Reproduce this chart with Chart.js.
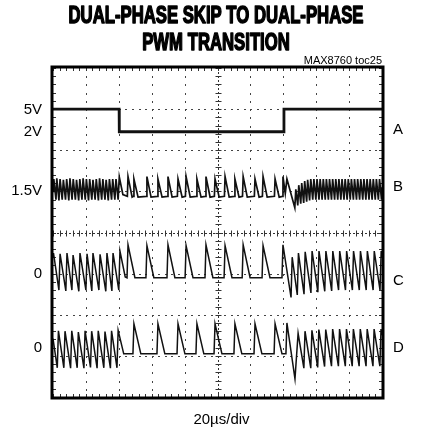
<!DOCTYPE html>
<html><head><meta charset="utf-8">
<script src="https://cdn.jsdelivr.net/npm/chart.js@4.4.0/dist/chart.umd.min.js"></script>
<style>html,body{margin:0;padding:0;background:#fff;}#wrap{width:431px;height:432px;position:relative;}</style>
</head><body><div id="wrap"><canvas id="c"></canvas></div>
<script>
// ---- text ----
const titleLines = ["DUAL-PHASE SKIP TO DUAL-PHASE", "PWM TRANSITION"];
const noteText = "MAX8760 toc25";
const xAxisLabel = "20µs/div";
// ---- axes (time in µs, vertical in divisions) ----
const timeMin = 0, timeMax = 200, timeStep = 20;
const divMin = -4, divMax = 4, divStep = 1;
// ---- channel labels (vertical position in divisions) ----
const leftLabels = ["5V", "2V", "1.5V", "0", "0"];
const leftLabelDiv = [2.98, 2.44, 1.02, -1.0, -2.8];
const rightLabels = ["A", "B", "C", "D"];
const rightLabelDiv = [2.49, 1.1, -1.17, -2.8];

// ---- trace A ----
const traceA_t = [0, 40.2, 40.3, 140.3, 140.4, 200];
const traceA_v = [3.0, 3.0, 2.45, 2.45, 3.0, 3.0];

// ---- trace B ----
const traceB_t = [0,0.5,1.8,2.3,3.6,4.3,5.6,6.3,7.6,8.3,9.6,10.3,11.6,12.3,13.6,14.3,15.6,16.3,17.6,18.3,19.6,20.3,21.6,22.3,23.6,24.3,25.6,26.3,27.6,28.3,29.6,30.3,31.6,32.3,33.6,34.3,35.6,36.3,37.6,38.3,39.6,40.3,42.5,
  45.2,45.6,48.1,48.8,49.2,51.7,56.7,57.1,59.6,63.4,63.8,66.3,69.5,69.9,72.4,75.6,76.0,78.5,80.5,80.9,83.4,87.1,87.5,90.0,92.6,93.0,95.5,98.1,98.5,101.0,104.2,104.6,107.1,110.2,110.6,113.1,115.2,115.6,118.1,122.4,122.8,125.3,127.3,127.7,130.2,134.6,135.0,137.5,139.4,139.8,141.2,142.2,
  147.0,147.6,148.8,149.4,150.6,151.2,152.4,153.0,154.2,154.8,156.0,156.7,157.9,158.6,159.8,160.5,161.7,162.4,163.6,164.3,165.5,166.2,167.4,168.1,169.3,170.0,171.2,171.9,173.1,173.8,175.0,175.7,176.9,177.6,178.8,179.5,180.7,181.4,182.6,183.3,184.5,185.2,186.4,187.1,188.3,189.0,190.2,190.9,192.1,192.8,194.0,194.7,195.9,196.6,197.8,198.5,199.7,200];
const traceB_v = [1.0,1.3,0.8,1.32,0.78,1.3,0.8,1.28,0.8,1.3,0.78,1.32,0.8,1.3,0.8,1.28,0.78,1.3,0.8,1.32,0.8,1.3,0.78,1.3,0.8,1.28,0.8,1.3,0.78,1.32,0.8,1.3,0.8,1.28,0.78,1.3,0.8,1.3,0.8,1.3,0.8,1.35,0.92,
  0.88,1.36,0.86,0.88,1.3,0.86,0.88,1.36,0.86,0.88,1.3,0.86,0.88,1.36,0.86,0.88,1.3,0.86,0.88,1.36,0.86,0.88,1.3,0.86,0.88,1.36,0.86,0.88,1.3,0.86,0.88,1.36,0.86,0.88,1.3,0.86,0.88,1.36,0.86,0.88,1.3,0.86,0.88,1.36,0.86,0.88,1.3,0.86,0.88,1.36,0.95,1.3,
  0.6,1.05,0.66,1.15,0.7,1.2,0.72,1.25,0.75,1.28,0.78,1.3,0.8,1.3,0.8,1.3,0.8,1.3,0.8,1.3,0.8,1.3,0.8,1.3,0.8,1.3,0.8,1.3,0.8,1.3,0.8,1.3,0.8,1.3,0.8,1.3,0.8,1.3,0.8,1.3,0.8,1.3,0.8,1.3,0.8,1.3,0.8,1.3,0.8,1.3,0.8,1.3,0.8,1.3,0.8,1.3,0.8,1.1];

// ---- trace C ----
const traceC_t = [0,0.3,3.6,4.3,7.8,8.5,11.5,12.2,15.7,16.4,20.0,20.7,23.6,24.3,27.9,28.6,32.1,32.8,35.8,36.5,40.0,40.7,43.9,
  45.0,45.6,49.8,56.5,57.1,61.3,69.3,69.9,74.1,80.3,80.9,85.1,92.4,93.0,97.2,104.0,104.6,108.8,115.0,115.6,119.8,127.1,127.7,131.9,139.2,139.8,
  144.7,145.4,148.5,149.2,152.6,153.3,156.8,157.5,161.0,161.7,165.2,165.9,169.4,170.1,173.6,174.3,177.8,178.5,182.0,182.7,186.2,186.9,190.4,191.1,194.6,195.3,198.8,199.5,200];
const traceC_v = [-0.6,-0.5,-1.4,-0.52,-1.42,-0.5,-1.4,-0.55,-1.43,-0.5,-1.4,-0.52,-1.42,-0.5,-1.4,-0.53,-1.43,-0.5,-1.42,-0.5,-1.4,-0.45,-1.08,
  -1.1,-0.3,-1.1,-1.1,-0.32,-1.1,-1.1,-0.3,-1.1,-1.1,-0.32,-1.1,-1.1,-0.3,-1.1,-1.1,-0.32,-1.1,-1.1,-0.3,-1.1,-1.1,-0.32,-1.1,-1.1,-0.3,
  -1.58,-0.6,-1.52,-0.5,-1.5,-0.47,-1.47,-0.45,-1.45,-0.45,-1.43,-0.45,-1.42,-0.45,-1.4,-0.45,-1.4,-0.45,-1.4,-0.45,-1.4,-0.45,-1.4,-0.45,-1.4,-0.45,-1.4,-0.45,-0.6];

// ---- trace D ----
const traceD_t = [0,2.6,3.3,6.6,7.3,10.7,11.4,14.7,15.4,18.8,19.5,22.8,23.5,26.8,27.5,30.9,31.6,34.9,35.6,38.9,39.6,43.0,
  48.6,49.2,53.4,63.2,63.8,68.0,75.4,76.0,80.2,86.9,87.5,91.7,97.9,98.5,102.7,110.0,110.6,114.8,122.2,122.8,127.0,134.4,135.0,139.2,141.6,142.2,
  147.1,149.0,152.5,153.2,156.7,157.4,160.9,161.6,165.1,165.8,169.3,170.0,173.5,174.2,177.7,178.4,181.9,182.6,186.1,186.8,190.3,191.0,194.5,195.2,198.7,199.4,200];
const traceD_v = [-2.58,-3.29,-2.39,-3.29,-2.4,-3.3,-2.39,-3.29,-2.42,-3.3,-2.39,-3.28,-2.4,-3.3,-2.39,-3.29,-2.41,-3.3,-2.39,-3.29,-2.38,-2.95,
  -2.95,-2.22,-2.95,-2.95,-2.22,-2.95,-2.95,-2.22,-2.95,-2.95,-2.22,-2.95,-2.95,-2.22,-2.95,-2.95,-2.22,-2.95,-2.95,-2.22,-2.95,-2.95,-2.22,-2.95,-2.95,-2.2,
  -3.56,-2.45,-3.3,-2.4,-3.3,-2.38,-3.28,-2.36,-3.26,-2.36,-3.25,-2.35,-3.25,-2.35,-3.25,-2.35,-3.25,-2.35,-3.25,-2.35,-3.25,-2.35,-3.25,-2.35,-3.25,-2.35,-2.5];

function pts(ts, vs){ return ts.map((t,i)=>({x:t, y:vs[i]})); }

const FONT = '"Liberation Sans", Arial, sans-serif';

const scopePlugin = {
  id: 'scope',
  beforeDatasetsDraw(chart){
    const {ctx, chartArea:a, scales:{x, y}} = chart;
    const cx = Math.round(x.getPixelForValue((timeMin+timeMax)/2)) + 0.5;
    const cy = Math.round(y.getPixelForValue(0)) + 0.5;
    const nMajX = Math.round((timeMax-timeMin)/timeStep);
    const nMajY = Math.round((divMax-divMin)/divStep);
    ctx.save();
    ctx.fillStyle = '#444';
    for (let i=1;i<nMajX;i++){
      if (i*2 === nMajX) continue;
      const px = Math.round(x.getPixelForValue(timeMin + i*timeStep));
      for (let j=1;j<nMajY*5;j++){
        const py = Math.round(y.getPixelForValue(divMin + j*divStep/5));
        ctx.fillRect(px, py, 1, 2);
      }
    }
    for (let j=1;j<nMajY;j++){
      if (j*2 === nMajY) continue;
      const py = Math.round(y.getPixelForValue(divMin + j*divStep));
      for (let i=1;i<nMajX*5;i++){
        const px = Math.round(x.getPixelForValue(timeMin + i*timeStep/5));
        ctx.fillRect(px, py, 2, 1);
      }
    }
    ctx.strokeStyle = '#333'; ctx.lineWidth = 1;
    ctx.setLineDash([2, 2]);
    ctx.beginPath();
    ctx.moveTo(cx, a.top); ctx.lineTo(cx, a.bottom);
    ctx.moveTo(a.left, cy); ctx.lineTo(a.right, cy);
    ctx.stroke();
    ctx.setLineDash([]);
    ctx.beginPath();
    for (let i=0;i<=nMajX*5;i++){
      const px = Math.round(x.getPixelForValue(timeMin + i*timeStep/5)) + 0.5;
      ctx.moveTo(px, cy-3); ctx.lineTo(px, cy+3);
      ctx.moveTo(px, a.top); ctx.lineTo(px, a.top+3);
      ctx.moveTo(px, a.bottom); ctx.lineTo(px, a.bottom-3);
    }
    for (let j=0;j<=nMajY*5;j++){
      const py = Math.round(y.getPixelForValue(divMin + j*divStep/5)) + 0.5;
      ctx.moveTo(cx-3, py); ctx.lineTo(cx+3, py);
      ctx.moveTo(a.left, py); ctx.lineTo(a.left+3, py);
      ctx.moveTo(a.right, py); ctx.lineTo(a.right-3, py);
    }
    ctx.stroke(); ctx.restore();
  },
  afterDraw(chart){
    const {ctx, chartArea:a, scales:{y}} = chart;
    ctx.save();
    ctx.strokeStyle = '#000'; ctx.lineWidth = 3;
    ctx.strokeRect(a.left-1, a.top-1, a.right-a.left+2, a.bottom-a.top+2);
    ctx.fillStyle = '#000';
    ctx.font = 'bold 23px ' + FONT;
    const sx = 295 / ctx.measureText(titleLines[0]).width;
    ctx.lineWidth = 1.5; ctx.lineJoin = 'round';
    titleLines.forEach((s, i) => {
      ctx.save();
      const w = ctx.measureText(s).width * sx;
      ctx.translate(216 - w/2, 23 + i*27); ctx.scale(sx, 1);
      ctx.strokeText(s, 0, 0); ctx.fillText(s, 0, 0);
      ctx.restore();
    });
    ctx.textBaseline = 'middle';
    ctx.font = '11px ' + FONT; ctx.textAlign = 'right';
    ctx.fillText(noteText, a.right, 61);
    ctx.font = '15px ' + FONT;
    leftLabels.forEach((s, i) => ctx.fillText(s, 42, y.getPixelForValue(leftLabelDiv[i])));
    ctx.textAlign = 'left';
    rightLabels.forEach((s, i) => ctx.fillText(s, 393, y.getPixelForValue(rightLabelDiv[i])));
    ctx.textAlign = 'center';
    ctx.fillText(xAxisLabel, (a.left + a.right)/2 + 4, 420);
    ctx.restore();
  }
};

const ds = (ts, vs, w) => ({data: pts(ts, vs), borderColor: '#111', borderWidth: w, pointRadius: 0, tension: 0, fill: false});

new Chart(document.getElementById('c'), {
  type: 'line',
  data: { datasets: [ ds(traceA_t, traceA_v, 2.8), ds(traceB_t, traceB_v, 1.7), ds(traceC_t, traceC_v, 1.5), ds(traceD_t, traceD_v, 1.5) ] },
  options: {
    responsive: true, maintainAspectRatio: false, animation: false,
    layout: { padding: { left: 53, right: 49, top: 68, bottom: 35 } },
    plugins: { legend: { display: false }, tooltip: { enabled: false }, title: { display: false } },
    scales: {
      x: { type: 'linear', min: timeMin, max: timeMax,
           ticks: { display: false, stepSize: timeStep },
           grid: { display: false, drawTicks: false }, border: { display: false } },
      y: { type: 'linear', min: divMin, max: divMax,
           ticks: { display: false, stepSize: divStep },
           grid: { display: false, drawTicks: false }, border: { display: false } }
    }
  },
  plugins: [scopePlugin]
});
</script></body></html>
